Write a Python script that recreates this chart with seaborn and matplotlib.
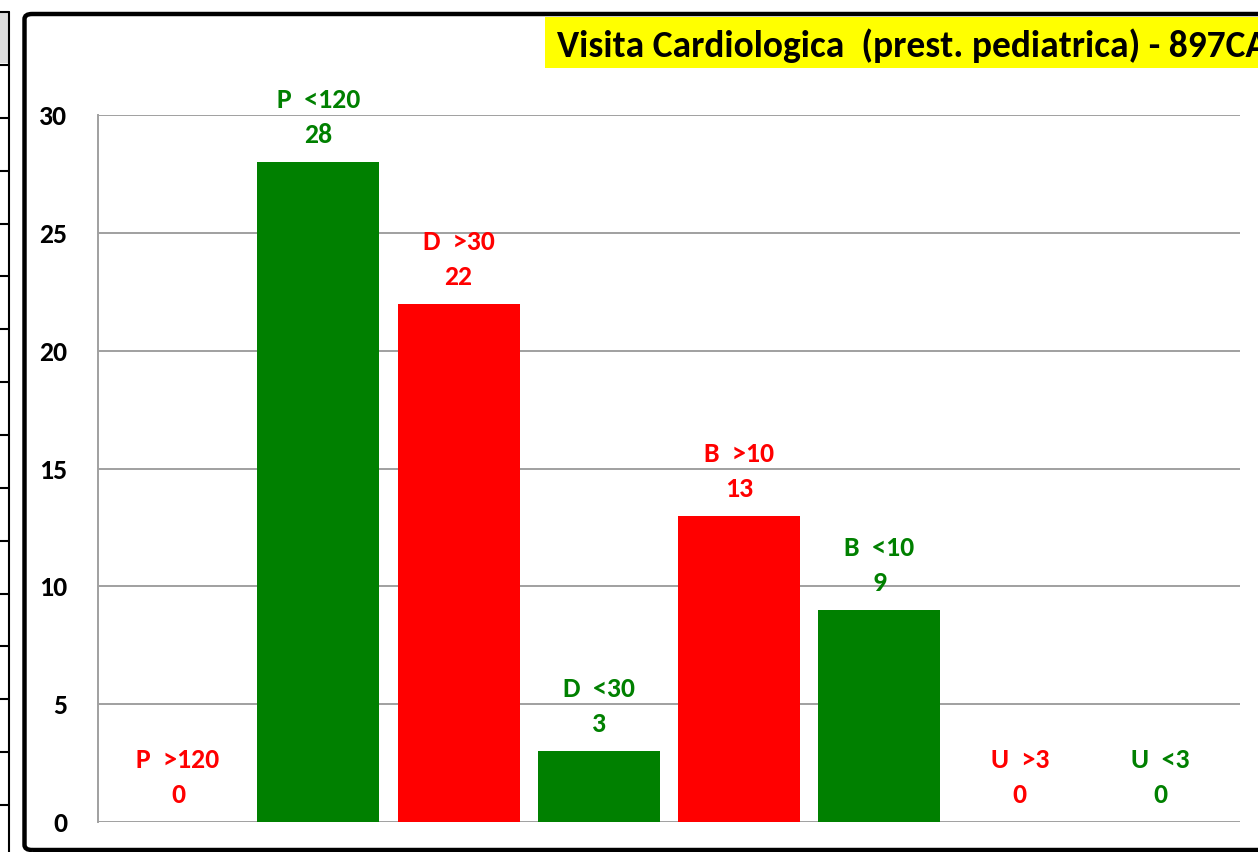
import matplotlib
matplotlib.use("Agg")
import matplotlib.pyplot as plt
import seaborn as sns
import pandas as pd
from matplotlib.patches import Rectangle, FancyBboxPatch
from matplotlib.lines import Line2D

categories = ["P  >120", "P  <120", "D  >30", "D  <30", "B  >10", "B  <10", "U  >3", "U  <3"]
values = [0, 28, 22, 3, 13, 9, 0, 0]
bar_colors = ["#FF0000", "#008000", "#FF0000", "#008000", "#FF0000", "#008000", "#FF0000", "#008000"]
yticks = [0, 5, 10, 15, 20, 25, 30]
title = "Visita Cardiologica  (prest. pediatrica) - 897CA"

sns.set_style("white")
FONT = ["Carlito", "DejaVu Sans"]
plt.rcParams["font.family"] = FONT

W, H = 1258, 852
fig = plt.figure(figsize=(W / 100, H / 100), dpi=100)

def fx(px):
    return px / W

def fy(py):
    return 1 - py / H

# left artefacts (neighbouring panel)
fig.patches.append(Rectangle((0, fy(63)), fx(9), fy(12) - fy(63), transform=fig.transFigure,
                             facecolor="#dcdcdc", edgecolor="none", zorder=0))
fig.lines.append(Line2D([fx(9), fx(9)], [fy(12), 0], transform=fig.transFigure, color="black", lw=1.5))
fig.lines.append(Line2D([0, fx(9)], [fy(12), fy(12)], transform=fig.transFigure, color="black", lw=1.5))
for k in range(15):
    yy = 65 + 52.86 * k
    fig.lines.append(Line2D([0, fx(9)], [fy(yy), fy(yy)], transform=fig.transFigure, color="black", lw=1.5))

# main frame
fig.patches.append(FancyBboxPatch((fx(24.5), fy(850)), fx(1300) - fx(24.5), fy(14) - fy(850),
                                  boxstyle="round,pad=0,rounding_size=0.006",
                                  transform=fig.transFigure, facecolor="none",
                                  edgecolor="black", lw=3.2, zorder=5))

ax = fig.add_axes([fx(98), fy(822), fx(1240) - fx(98), fy(115) - fy(822)])
df = pd.DataFrame({"cat": categories, "val": values})
sns.barplot(data=df, x="cat", y="val", hue="cat", palette=bar_colors, legend=False,
            width=0.87, saturation=1, linewidth=0, ax=ax, zorder=3)

ax.set_ylim(0, 30)
ax.set_xlim(-0.57, 7.57)
ax.set_yticks(yticks)
ax.set_yticklabels([str(t) for t in yticks], fontsize=20, fontweight="bold", color="black")
ax.set_xticks([])
ax.set_xlabel("")
ax.set_ylabel("")
ax.grid(axis="y", color="#a0a0a0", lw=1.4, zorder=0)
for s in ["top", "right", "bottom"]:
    ax.spines[s].set_visible(False)
ax.spines["left"].set_color("#a0a0a0")
ax.spines["left"].set_linewidth(1.4)
ax.tick_params(axis="y", direction="out", length=6, width=1.4, color="#a0a0a0", pad=16)
for lab in ax.get_yticklabels():
    lab.set_fontfamily(FONT)

for i, (c, v, col) in enumerate(zip(categories, values, bar_colors)):
    ax.annotate(str(v), (i, v), xytext=(0, 13.7), textcoords="offset points", ha="center",
                va="baseline", fontsize=20, fontweight="bold", color=col, annotation_clip=False)
    ax.annotate(c, (i, v), xytext=(0, 38.9), textcoords="offset points", ha="center",
                va="baseline", fontsize=20, fontweight="bold", color=col, annotation_clip=False)

# title box
fig.patches.append(Rectangle((fx(545), fy(68)), fx(1300) - fx(545), fy(17) - fy(68),
                             transform=fig.transFigure, facecolor="#FFFF00", edgecolor="none", zorder=4))
fig.text(fx(557), fy(43), title, fontsize=27, fontweight="bold", color="black",
         ha="left", va="center_baseline", zorder=6)

fig.savefig("out.png", dpi=100)
